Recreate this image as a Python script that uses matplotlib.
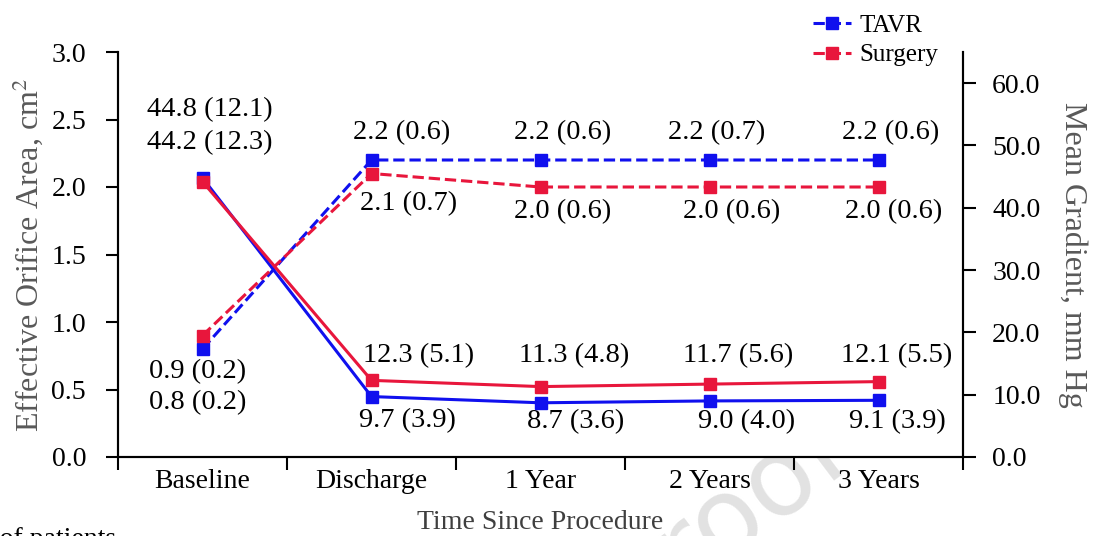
import numpy as np
import matplotlib.pyplot as plt
import matplotlib as mpl

# 绘图格式
config = {
    "font.family": ["Liberation Serif", "DejaVu Serif"], "mathtext.fontset": "stix",
    "font.size": 20, "axes.linewidth": 1.5,
    "xtick.direction": "out", "ytick.direction": "out",
    "xtick.major.width": 1.5, "ytick.major.width": 1.5,
}
mpl.rcParams.update(config)

# 数据
timepoints = ["Baseline", "Discharge", "1 Year", "2 Years", "3 Years"]
eoa_tavr = [0.8, 2.2, 2.2, 2.2, 2.2]
eoa_surgery = [0.9, 2.1, 2.0, 2.0, 2.0]
grad_tavr = [44.8, 9.7, 8.7, 9.0, 9.1]
grad_surgery = [44.2, 12.3, 11.3, 11.7, 12.1]
eoa_sd_tavr = [0.2, 0.6, 0.6, 0.7, 0.6]
eoa_sd_surgery = [0.2, 0.7, 0.6, 0.6, 0.6]
grad_sd_tavr = [12.1, 3.9, 3.6, 4.0, 3.9]
grad_sd_surgery = [12.3, 5.1, 4.8, 5.6, 5.5]

blue = "#1010EE"
red = "#E8163C"

fig = plt.figure(figsize=(10.94, 5.36), dpi=100)
ax = fig.add_axes([118 / 1094, 79 / 536, 845 / 1094, 405 / 536])
ax2 = ax.twinx()

x = np.arange(len(timepoints))
kw = dict(lw=2.2, marker="s", ms=8.5, clip_on=False)
l1, = ax.plot(x, eoa_tavr, color=blue, ls="--", zorder=3, **kw)
l2, = ax.plot(x, eoa_surgery, color=red, ls="--", zorder=3, **kw)
ax2.plot(x, grad_tavr, color=blue, ls="-", zorder=3, **kw)
ax2.plot(x, grad_surgery, color=red, ls="-", zorder=4, **kw)

ax.set_xlim(-0.5, len(timepoints) - 0.5)
ax.set_ylim(0, 3.0)
ax2.set_ylim(0, 65)
ax.set_yticks(np.arange(0, 3.01, 0.5))
ax.set_yticklabels([f"{v:.1f}" for v in np.arange(0, 3.01, 0.5)])
ax2.set_yticks(np.arange(0, 60.1, 10))
ax2.set_yticklabels([f"{v:.1f}" for v in np.arange(0, 60.1, 10)])

# x 轴：刻度在类别之间，标签在类别中心
ax.set_xticks(np.arange(-0.5, len(timepoints), 1.0))
ax.set_xticklabels([])
ax.set_xticks(x, minor=True)
ax.set_xticklabels(timepoints, minor=True)
ax.tick_params(axis="x", which="major", length=9)
ax.tick_params(axis="x", which="minor", length=0, pad=9)
ax.tick_params(axis="y", length=9, pad=14)
ax2.tick_params(axis="y", length=9, pad=12)

for a in (ax, ax2):
    a.spines["top"].set_visible(False)

ax.set_ylabel("Effective Orifice Area, cm$^2$", fontsize=23, color="#595959")
ax.yaxis.set_label_coords(-0.086, 0.5)
ax2.set_ylabel("Mean Gradient, mm Hg", fontsize=23, color="#595959", rotation=270)
ax2.yaxis.set_label_coords(1.147, 0.5)
ax.set_xlabel("Time Since Procedure", fontsize=20, color="#3f3f3f")
ax.xaxis.set_label_coords(0.5, -0.13)

# 数值标注位置（左轴坐标）
eoa_tavr_pos = [(-0.03, 0.40), (1.18, 2.40), (2.13, 2.40), (3.04, 2.40), (4.07, 2.40)]
eoa_surg_pos = [(-0.03, 0.63), (1.22, 1.88), (2.13, 1.82), (3.13, 1.82), (4.09, 1.82)]
grad_tavr_pos = [(0.045, 2.57), (1.21, 0.27), (2.21, 0.26), (3.22, 0.26), (4.11, 0.26)]
grad_surg_pos = [(0.045, 2.33), (1.28, 0.75), (2.20, 0.75), (3.17, 0.75), (4.11, 0.75)]

for vals, sds, pos in [(eoa_tavr, eoa_sd_tavr, eoa_tavr_pos),
                       (eoa_surgery, eoa_sd_surgery, eoa_surg_pos),
                       (grad_tavr, grad_sd_tavr, grad_tavr_pos),
                       (grad_surgery, grad_sd_surgery, grad_surg_pos)]:
    for v, s, (px, py) in zip(vals, sds, pos):
        ax.text(px, py, f"{v:.1f} ({s:.1f})", ha="center", va="center", fontsize=20.5, zorder=5)

fig.legend([l1, l2], ["TAVR", "Surgery"], loc="upper left",
           bbox_to_anchor=(813 / 1094, 522 / 536), frameon=False, fontsize=18,
           handlelength=1.5, handletextpad=0.35, labelspacing=0.3, borderpad=0,
           borderaxespad=0)

# 底部被截断的文字与水印
fig.text(-48 / 1094, 0.016, "No. of patients", ha="left", va="top", fontsize=20)
fig.text(854 / 1094, 1 - 458 / 536, "Proof", family="DejaVu Sans", fontsize=78,
         color="#e2e2e2", rotation=37, rotation_mode="anchor", ha="right",
         va="baseline", zorder=-10)

fig.savefig("out.png", dpi=100)
